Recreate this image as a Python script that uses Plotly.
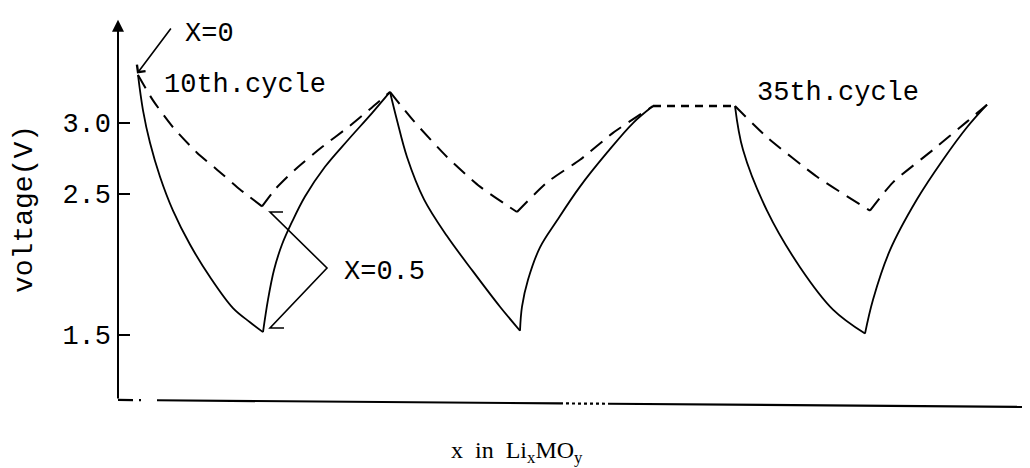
import plotly.graph_objects as go

# ------------------------------------------------------------
# x = position along "x in LixMOy" (arbitrary units),
# v = voltage (V)
# ------------------------------------------------------------
# 10th cycle
c10_dis_solid_x = [0.20, 0.25, 0.32, 0.42, 0.55, 0.72, 0.92, 1.15, 1.32, 1.45]
c10_dis_solid_v = [3.34, 3.09, 2.86, 2.62, 2.38, 2.14, 1.91, 1.69, 1.59, 1.52]
c10_chg_solid_x = [1.45, 1.50, 1.56, 1.64, 1.74, 1.87, 2.07, 2.30, 2.54, 2.72]
c10_chg_solid_v = [1.52, 1.75, 1.96, 2.14, 2.30, 2.48, 2.69, 2.88, 3.07, 3.22]
c10_dis_dash_x = [0.20, 0.35, 0.55, 0.79, 0.99, 1.22, 1.44]
c10_dis_dash_v = [3.34, 3.16, 2.97, 2.79, 2.67, 2.53, 2.41]
c10_chg_dash_x = [1.44, 1.57, 1.77, 2.04, 2.30, 2.54, 2.72]
c10_chg_dash_v = [2.41, 2.53, 2.67, 2.83, 2.97, 3.11, 3.22]

# following cycle
c11_dis_solid_x = [2.72, 2.79, 2.89, 3.06, 3.29, 3.55, 3.82, 4.02]
c11_dis_solid_v = [3.22, 3.02, 2.76, 2.46, 2.20, 1.95, 1.70, 1.53]
c11_chg_solid_x = [4.02, 4.04, 4.10, 4.22, 4.39, 4.62, 4.89, 5.15, 5.35]
c11_chg_solid_v = [1.53, 1.70, 1.89, 2.12, 2.31, 2.55, 2.79, 3.00, 3.12]
c11_dis_dash_x = [2.72, 2.95, 3.29, 3.62, 3.99]
c11_dis_dash_v = [3.22, 3.02, 2.76, 2.55, 2.37]
c11_chg_dash_x = [3.99, 4.29, 4.62, 4.95, 5.35]
c11_chg_dash_v = [2.37, 2.58, 2.74, 2.93, 3.12]

# cycles left out (dotted)
gap_x = [5.35, 6.17]
gap_v = [3.12, 3.12]

# 35th cycle
c35_dis_solid_x = [6.17, 6.25, 6.49, 6.82, 7.15, 7.47]
c35_dis_solid_v = [3.12, 2.81, 2.38, 1.98, 1.68, 1.51]
c35_chg_solid_x = [7.47, 7.55, 7.72, 7.99, 8.25, 8.49, 8.69]
c35_chg_solid_v = [1.51, 1.75, 2.10, 2.46, 2.74, 2.97, 3.13]
c35_dis_dash_x = [6.17, 6.49, 6.99, 7.52]
c35_dis_dash_v = [3.12, 2.90, 2.62, 2.38]
c35_chg_dash_x = [7.52, 7.75, 8.15, 8.49, 8.69]
c35_chg_dash_v = [2.38, 2.58, 2.81, 3.01, 3.13]

tick_vals = [1.5, 2.5, 3.0]
tick_text = ["1.5", "2.5", "3.0"]

MONO = "Liberation Mono, Courier New, monospace"
SERIF = "Liberation Serif, Times New Roman, serif"

fig = go.Figure()

solid_segments = [
    (c10_dis_solid_x, c10_dis_solid_v), (c10_chg_solid_x, c10_chg_solid_v),
    (c11_dis_solid_x, c11_dis_solid_v), (c11_chg_solid_x, c11_chg_solid_v),
    (c35_dis_solid_x, c35_dis_solid_v), (c35_chg_solid_x, c35_chg_solid_v),
]
dash_segments = [
    (c10_dis_dash_x, c10_dis_dash_v), (c10_chg_dash_x, c10_chg_dash_v),
    (c11_dis_dash_x, c11_dis_dash_v), (c11_chg_dash_x, c11_chg_dash_v),
    (c35_dis_dash_x, c35_dis_dash_v), (c35_chg_dash_x, c35_chg_dash_v),
]

for xs, vs in solid_segments:
    fig.add_trace(go.Scatter(x=xs, y=vs, mode="lines",
                             line=dict(color="black", width=1.8, shape="spline", smoothing=1.0),
                             showlegend=False, hoverinfo="skip"))
for xs, vs in dash_segments:
    fig.add_trace(go.Scatter(x=xs, y=vs, mode="lines",
                             line=dict(color="black", width=2, dash="15px,9px",
                                       shape="spline", smoothing=0.6),
                             showlegend=False, hoverinfo="skip"))
fig.add_trace(go.Scatter(x=gap_x, y=gap_v, mode="lines",
                         line=dict(color="black", width=2.5, dash="8px,6px"),
                         showlegend=False, hoverinfo="skip"))

# bottom axis, slightly tilted, with breaks
y_left, y_right = 1.040, 0.990
def ybase(x):
    return y_left + (y_right - y_left) * x / 9.12

shapes = []
for x0, x1, dash in [(0, 0.15, "solid"), (0.21, 0.23, "solid"), (0.39, 4.42, "solid"),
                     (4.42, 4.90, "dot"), (4.90, 9.12, "solid")]:
    shapes.append(dict(type="line", xref="x", yref="y", x0=x0, x1=x1,
                       y0=ybase(x0), y1=ybase(x1),
                       line=dict(color="black", width=2.2, dash=dash)))

# X=0.5 bracket
shapes.append(dict(type="path", xref="x", yref="y",
                   path="M 1.65,2.37 L 1.52,2.37 L 2.09,1.974 L 1.52,1.549 L 1.66,1.549",
                   line=dict(color="black", width=1.6)))

annotations = [
    # y axis with arrow
    dict(x=0, y=3.73, ax=0, ay=1.04, xref="x", yref="y", axref="x", ayref="y",
         text="", showarrow=True, arrowhead=2, arrowsize=1.2, arrowwidth=2,
         arrowcolor="black", standoff=0),
    # X=0 pointer
    dict(x=0.19, y=3.35, ax=0.54, ay=3.68, xref="x", yref="y", axref="x", ayref="y",
         text="", showarrow=True, arrowhead=4, arrowsize=1.3, arrowwidth=1.6,
         arrowcolor="black", standoff=0),
    dict(x=0.91, y=3.63, xref="x", yref="y", text="X=0", showarrow=False,
         font=dict(family=MONO, size=27, color="black")),
    dict(x=1.27, y=3.27, xref="x", yref="y", text="10th.cycle", showarrow=False,
         font=dict(family=MONO, size=27, color="black")),
    dict(x=7.195, y=3.21, xref="x", yref="y", text="35th.cycle", showarrow=False,
         font=dict(family=MONO, size=27, color="black")),
    dict(x=2.665, y=1.946, xref="x", yref="y", text="X=0.5", showarrow=False,
         font=dict(family=MONO, size=27, color="black")),
    dict(x=3.99, y=-0.104, xref="x", yref="paper", yanchor="middle",
         text="x  in  Li<sub>x</sub>MO<sub>y</sub>", showarrow=False,
         font=dict(family=SERIF, size=24, color="black")),
]

# the page adds an 8px body margin, so the figure is 8px smaller each way
fig.update_layout(
    width=1022, height=460,
    margin=dict(l=110, r=0, t=0, b=58, autoexpand=False),
    paper_bgcolor="white", plot_bgcolor="white",
    shapes=shapes, annotations=annotations,
    xaxis=dict(range=[0, 9.12], showgrid=False, zeroline=False, showline=False,
               showticklabels=False, ticks="", automargin=False),
    yaxis=dict(range=[0.969, 3.814], showgrid=False, zeroline=False, showline=False,
               automargin=False,
               tickvals=tick_vals, ticktext=tick_text, ticks="inside", ticklen=12,
               tickwidth=2, tickcolor="black", ticklabelstandoff=6,
               tickfont=dict(family=MONO, size=27, color="black"),
               title=dict(text="voltage(V)", standoff=21,
                          font=dict(family=MONO, size=28, color="black"))),
)

fig.write_html("out.html")
